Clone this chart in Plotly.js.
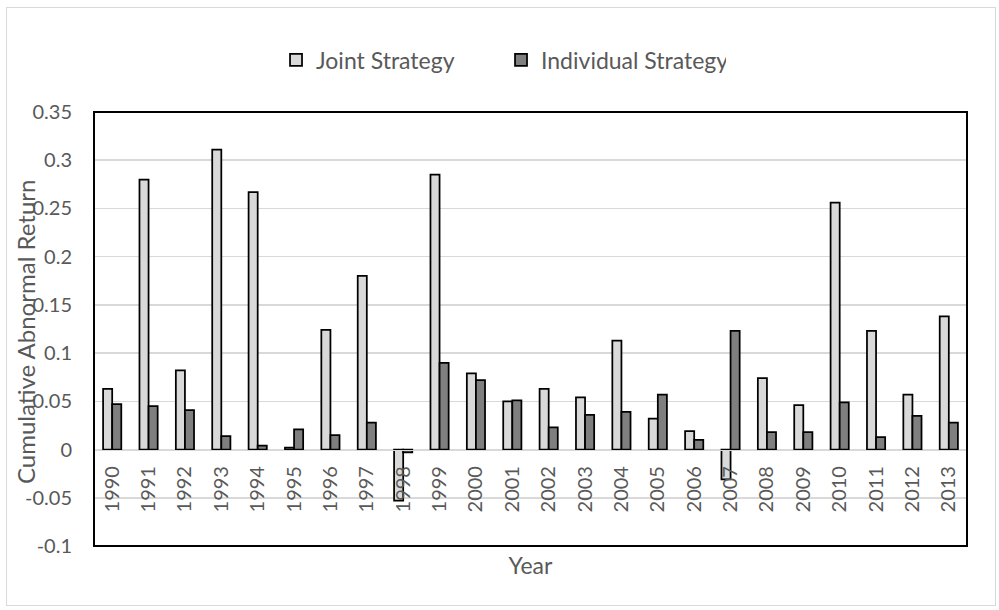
<!DOCTYPE html>
<html>
<head>
<meta charset="utf-8">
<script src="https://cdn.plot.ly/plotly-3.0.1.min.js"></script>
<style>
  html, body { margin: 0; padding: 0; background: #fff; }
  #wrap { position: relative; width: 999px; height: 610px; }
  #chart { width: 999px; height: 610px; }
  /* light chart-area border */
  #frame { position: absolute; left: 6px; top: 7px; width: 990px; height: 599px;
           border: 1px solid #d9d9d9; box-sizing: border-box; pointer-events: none; }
</style>
</head>
<body>
<div id="wrap"><div id="chart"></div><div id="frame"></div></div>
<script>
const years = ['1990','1991','1992','1993','1994','1995','1996','1997','1998','1999','2000','2001',
               '2002','2003','2004','2005','2006','2007','2008','2009','2010','2011','2012','2013'];

const jointStrategy = [0.063, 0.280, 0.082, 0.311, 0.267, 0.002, 0.124, 0.180, -0.053, 0.285, 0.079, 0.050,
                       0.063, 0.054, 0.113, 0.032, 0.019, -0.031, 0.074, 0.046, 0.256, 0.123, 0.057, 0.138];

const individualStrategy = [0.047, 0.045, 0.041, 0.014, 0.004, 0.021, 0.015, 0.028, -0.003, 0.090, 0.072, 0.051,
                            0.023, 0.036, 0.039, 0.057, 0.010, 0.123, 0.018, 0.018, 0.049, 0.013, 0.035, 0.028];

const yTickVals = [-0.1, -0.05, 0, 0.05, 0.1, 0.15, 0.2, 0.25, 0.3, 0.35];
const yTickText = ['-0.1', '-0.05', '0', '0.05', '0.1', '0.15', '0.2', '0.25', '0.3', '0.35'];

const FONT = 'Lato, "Open Sans", sans-serif';
const TEXT = '#595959';
const yMin = -0.1, yMax = 0.35;

const traces = [
  {
    type: 'bar', name: 'Joint Strategy', x: years, y: jointStrategy,
    marker: { color: '#d9d9d9', line: { color: '#000', width: 1.75 } }
  },
  {
    type: 'bar', name: 'Individual Strategy', x: years, y: individualStrategy,
    marker: { color: '#7f7f7f', line: { color: '#000', width: 1.75 } }
  }
];

const layout = {
  width: 999, height: 610,
  margin: { l: 94, r: 32, t: 112, b: 64 },
  paper_bgcolor: '#fff', plot_bgcolor: '#fff',
  font: { family: FONT, color: TEXT },
  barmode: 'group', bargap: 0.5, bargroupgap: 0,
  showlegend: true,
  legend: {
    orientation: 'h', x: 0.2085, xanchor: 'left', y: 1.12, yanchor: 'middle',
    entrywidth: 180, entrywidthmode: 'pixels',
    font: { family: FONT, size: 23, color: TEXT }, bgcolor: 'rgba(0,0,0,0)'
  },
  xaxis: {
    type: 'category',
    anchor: 'free', position: (0 - yMin) / (yMax - yMin),
    showline: true, linecolor: '#d9d9d9', linewidth: 1.5,
    showgrid: false, zeroline: false, ticks: '',
    tickangle: -90, ticklabelstandoff: 7,
    tickfont: { family: FONT, size: 20, color: TEXT },
    title: { text: 'Year', font: { family: FONT, size: 23, color: TEXT }, standoff: 46 },
    automargin: false
  },
  yaxis: {
    range: [yMin, yMax], tickvals: yTickVals, ticktext: yTickText,
    showgrid: true, gridcolor: '#d9d9d9', gridwidth: 1.5,
    zeroline: false, showline: false, ticks: '', ticklabelstandoff: 21,
    tickfont: { family: FONT, size: 20, color: TEXT },
    automargin: false
  },
  annotations: [
    { text: 'Cumulative Abnormal Return', textangle: -90, showarrow: false,
      xref: 'paper', yref: 'paper', x: 0, y: 0.493, xanchor: 'center', yanchor: 'middle',
      xshift: -69, font: { family: FONT, size: 24, color: TEXT } }
  ],
  shapes: [
    { type: 'rect', xref: 'paper', yref: 'paper', x0: 0, x1: 1, y0: 0, y1: 1,
      line: { color: '#000', width: 2 }, fillcolor: 'rgba(0,0,0,0)', layer: 'above' }
  ]
};

Plotly.newPlot('chart', traces, layout, { displayModeBar: false, staticPlot: true });
</script>
</body>
</html>
